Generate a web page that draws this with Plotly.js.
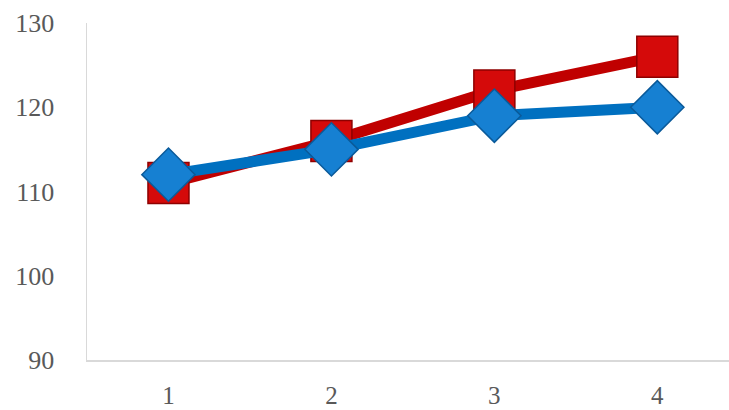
<!DOCTYPE html>
<html>
<head>
<meta charset="utf-8">
<script src="https://cdn.plot.ly/plotly-3.0.1.min.js"></script>
<style>html,body{margin:0;padding:0;background:#fff;}#chart{width:729px;height:410px;}</style>
</head>
<body>
<div id="chart"></div>
<script>
const categories = [1, 2, 3, 4];
const seriesRed = [111, 116, 122, 126];
const seriesBlue = [112, 115, 119, 120];
const yTicks = [90, 100, 110, 120, 130];

const traces = [
  {
    x: categories, y: seriesRed, type: 'scatter', mode: 'lines+markers',
    line: {color: '#C00000', width: 11},
    marker: {symbol: 'square', size: 41, color: '#D50A0A', line: {color: '#8E0000', width: 1.5}},
    hoverinfo: 'x+y'
  },
  {
    x: categories, y: seriesBlue, type: 'scatter', mode: 'lines+markers',
    line: {color: '#0070C0', width: 11},
    marker: {symbol: 'diamond', size: 41, color: '#1680D2', line: {color: '#0A5A9A', width: 1.5}},
    hoverinfo: 'x+y'
  }
];

const layout = {
  width: 729, height: 410,
  margin: {l: 87, r: 0, t: 23, b: 50},
  paper_bgcolor: '#ffffff', plot_bgcolor: '#ffffff',
  showlegend: false,
  font: {family: 'Liberation Serif, Times New Roman, serif', color: '#595959', size: 25},
  xaxis: {
    range: [0.5, 4.44], tickvals: categories, ticktext: categories.map(String),
    showgrid: false, zeroline: false, showline: true, linecolor: '#D9D9D9', linewidth: 1.5,
    ticks: '', ticklabelstandoff: 12, tickfont: {size: 25, color: '#595959'}
  },
  yaxis: {
    range: [90, 130], tickvals: yTicks, ticktext: yTicks.map(String),
    showgrid: false, zeroline: false, showline: true, linecolor: '#D9D9D9', linewidth: 1.5,
    ticks: '', ticklabelstandoff: 26, tickfont: {size: 26, color: '#595959'}
  }
};

Plotly.newPlot('chart', traces, layout, {displayModeBar: false, staticPlot: true});
</script>
</body>
</html>
